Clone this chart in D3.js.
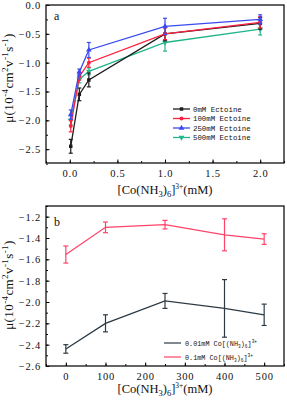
<!DOCTYPE html>
<html>
<head>
<meta charset="utf-8">
<script src="https://cdn.jsdelivr.net/npm/d3@7"></script>
<style>
  body { margin: 0; background: #fff; }
  svg text { font-family: "Liberation Serif", "DejaVu Serif", serif; fill: #111; }
  .tick text { font-size: 10.5px; letter-spacing: 0.8px; }
  .leg { font-family: "Liberation Mono", monospace; font-size: 7.4px; }
</style>
</head>
<body>
<svg id="chart" width="287" height="400"></svg>
<script>
// panel a: mobility vs [Co(NH3)6]3+ for several Ectoine concentrations
var coA = [0.01, 0.1, 0.2, 1.0, 2.0];
var ectoineNames = ["0mM Ectoine", "100mM Ectoine", "250mM Ectoine", "500mM Ectoine"];
var mu0 = [-2.45, -1.55, -1.30, -0.50, -0.32];
var err0 = [0.12, 0.11, 0.12, 0.12, 0.10];
var mu100 = [-2.10, -1.24, -1.00, -0.50, -0.30];
var err100 = [0.10, 0.06, 0.08, 0.10, 0.10];
var mu250 = [-1.90, -1.16, -0.78, -0.37, -0.25];
var err250 = [0.08, 0.05, 0.13, 0.14, 0.08];
var mu500 = [-2.00, -1.29, -1.15, -0.65, -0.42];
var err500 = [0.08, 0.06, 0.06, 0.15, 0.10];
var aTicksX = [0.0, 0.5, 1.0, 1.5, 2.0];
var aTicksY = [0.0, -0.5, -1.0, -1.5, -2.0, -2.5];

// panel b: mobility vs Ectoine for two Co concentrations
var ectoineB = [0, 100, 250, 400, 500];
var mu001 = [-2.44, -2.20, -1.99, -2.06, -2.12];
var err001 = [0.04, 0.08, 0.07, 0.27, 0.10];
var mu01 = [-1.555, -1.30, -1.275, -1.37, -1.41];
var err01 = [0.08, 0.05, 0.04, 0.15, 0.05];
var bTicksX = [0, 100, 200, 300, 400, 500];
var bTicksY = [-1.2, -1.4, -1.6, -1.8, -2.0, -2.2, -2.4, -2.6];

var svg = d3.select("#chart");
var L = 46, R = 284;

function frameAxes(g, x, y, top, bottom, xt, xminor, yt, yminor, xfmt, yfmt) {
  g.append("g").attr("transform", "translate(0," + bottom + ")")
    .call(d3.axisBottom(x).tickValues(xminor).tickSize(-2).tickFormat(""))
    .call(function (s) { s.select(".domain").remove(); });
  g.append("g").attr("transform", "translate(0," + bottom + ")")
    .call(d3.axisBottom(x).tickValues(xt).tickSize(-3.5).tickPadding(7).tickFormat(xfmt))
    .call(function (s) { s.select(".domain").remove(); });
  g.append("g").attr("transform", "translate(" + L + ",0)")
    .call(d3.axisLeft(y).tickValues(yminor).tickSize(-2).tickFormat(""))
    .call(function (s) { s.select(".domain").remove(); });
  g.append("g").attr("transform", "translate(" + L + ",0)")
    .call(d3.axisLeft(y).tickValues(yt).tickSize(-3.5).tickPadding(5).tickFormat(yfmt))
    .call(function (s) { s.select(".domain").remove(); });
  g.append("rect").attr("x", L).attr("y", top).attr("width", R - L).attr("height", bottom - top)
    .attr("fill", "none").attr("stroke", "#111").attr("stroke-width", 1.3);
}

function series(g, x, y, xs, ys, es, color, marker, cap) {
  var line = d3.line().x(function (d, i) { return x(xs[i]); }).y(function (d) { return y(d); });
  g.append("path").datum(ys).attr("d", line).attr("fill", "none")
    .attr("stroke", color).attr("stroke-width", 1.3);
  ys.forEach(function (v, i) {
    var px = x(xs[i]);
    g.append("line").attr("x1", px).attr("x2", px).attr("y1", y(v - es[i])).attr("y2", y(v + es[i]))
      .attr("stroke", color).attr("stroke-width", 1.2);
    [v - es[i], v + es[i]].forEach(function (e) {
      g.append("line").attr("x1", px - cap).attr("x2", px + cap).attr("y1", y(e)).attr("y2", y(e))
        .attr("stroke", color).attr("stroke-width", 1.2);
    });
    if (marker) {
      g.append("path").attr("d", d3.symbol().type(marker.type).size(marker.size)())
        .attr("transform", "translate(" + px + "," + y(v) + ")" + (marker.flip ? " rotate(180)" : ""))
        .attr("fill", color);
    }
  });
}

function ylabel(g, cx, cy) {
  var t = g.append("text").attr("transform", "translate(" + cx + "," + cy + ") rotate(-90)")
    .attr("text-anchor", "middle").style("font-size", "13px").style("letter-spacing", "0.4px");
  t.append("tspan").text("μ(10");
  t.append("tspan").attr("dy", -5).style("font-size", "9px").text("-4");
  t.append("tspan").attr("dy", 5).text("cm");
  t.append("tspan").attr("dy", -5).style("font-size", "9px").text("2");
  t.append("tspan").attr("dy", 5).text("v");
  t.append("tspan").attr("dy", -5).style("font-size", "9px").text("-1");
  t.append("tspan").attr("dy", 5).text("s");
  t.append("tspan").attr("dy", -5).style("font-size", "9px").text("-1");
  t.append("tspan").attr("dy", 5).text(")");
}

function xlabel(g, cx, cy) {
  var t = g.append("text").attr("x", cx).attr("y", cy).attr("text-anchor", "middle").style("font-size", "12.5px");
  t.append("tspan").text("[Co(NH");
  t.append("tspan").attr("dy", 3).style("font-size", "8.5px").text("3");
  t.append("tspan").attr("dy", -3).text(")");
  t.append("tspan").attr("dy", 3).style("font-size", "8.5px").text("6");
  t.append("tspan").attr("dy", -3).text("]");
  t.append("tspan").attr("dy", -5).style("font-size", "7.5px").text("3+");
  t.append("tspan").attr("dy", 5).text("(mM)");
}

// ---- panel a ----
var topA = 5, botA = 163;
var xa = d3.scaleLinear().domain([-0.25, 2.25]).range([L, R]);
var ya = d3.scaleLinear().domain([-2.74, 0]).range([botA, topA]);
var ga = svg.append("g");
frameAxes(ga, xa, ya, topA, botA, aTicksX, d3.range(-0.25, 2.26, 0.25), aTicksY,
  d3.range(-2.75, 0.01, 0.25), d3.format(".1f"), function (d) { return d3.format(".1f")(d).replace("-", "−"); });

var colorsA = ["#1c1c1c", "#ff1f3d", "#3a4af0", "#22b58a"];
var markersA = [
  { type: d3.symbolSquare, size: 12 },
  { type: d3.symbolCircle, size: 12 },
  { type: d3.symbolTriangle, size: 14 },
  { type: d3.symbolTriangle, size: 14, flip: true }
];
var musA = [mu0, mu100, mu250, mu500], errsA = [err0, err100, err250, err500];
[3, 0, 1, 2].forEach(function (k) {
  series(ga, xa, ya, coA, musA[k], errsA[k], colorsA[k], markersA[k], 2);
});

ga.append("text").attr("x", 54).attr("y", 20).style("font-size", "12px").text("a");

ectoineNames.forEach(function (n, i) {
  var yy = 109 + i * 9.5;
  ga.append("line").attr("x1", 173).attr("x2", 190).attr("y1", yy).attr("y2", yy)
    .attr("stroke", colorsA[i]).attr("stroke-width", 1.3);
  ga.append("path").attr("d", d3.symbol().type(markersA[i].type).size(markersA[i].size)())
    .attr("transform", "translate(181.5," + yy + ")" + (markersA[i].flip ? " rotate(180)" : ""))
    .attr("fill", colorsA[i]);
  ga.append("text").attr("class", "leg").attr("x", 193).attr("y", yy + 2.5).text(n);
});
ylabel(ga, 13, 78);
xlabel(ga, 165, 194);

// ---- panel b ----
var topB = 206, botB = 366;
var xb = d3.scaleLinear().domain([-50, 550]).range([L, R]);
var yb = d3.scaleLinear().domain([-2.6, -1.1]).range([botB, topB]);
var gb = svg.append("g");
frameAxes(gb, xb, yb, topB, botB, bTicksX, d3.range(-50, 551, 50), bTicksY,
  d3.range(-2.6, -1.09, 0.1), d3.format("d"), function (d) { return d3.format(".1f")(d).replace("-", "−"); });

var colorsB = ["#2d3b45", "#ff4468"];
series(gb, xb, yb, ectoineB, mu001, err001, colorsB[0], null, 2.5);
series(gb, xb, yb, ectoineB, mu01, err01, colorsB[1], null, 2.5);

gb.append("text").attr("x", 54).attr("y", 226).style("font-size", "12px").text("b");

["0.01mM Co[(NH", "0.1mM Co[(NH"].forEach(function (n, i) {
  var yy = 343 + i * 14;
  gb.append("line").attr("x1", 164).attr("x2", 181).attr("y1", yy).attr("y2", yy)
    .attr("stroke", colorsB[i]).attr("stroke-width", 1.2);
  var t = gb.append("text").attr("class", "leg").attr("x", 185).attr("y", yy + 2.5).style("font-size", "6.8px");
  t.append("tspan").text(n);
  t.append("tspan").attr("dy", 2).style("font-size", "4.5px").text("3");
  t.append("tspan").attr("dy", -2).text(")");
  t.append("tspan").attr("dy", 2).style("font-size", "4.5px").text("6");
  t.append("tspan").attr("dy", -2).text("]");
  t.append("tspan").attr("dy", -3).style("font-size", "4.5px").text("3+");
});
ylabel(gb, 13, 285);
xlabel(gb, 165, 393);
</script>
</body>
</html>
